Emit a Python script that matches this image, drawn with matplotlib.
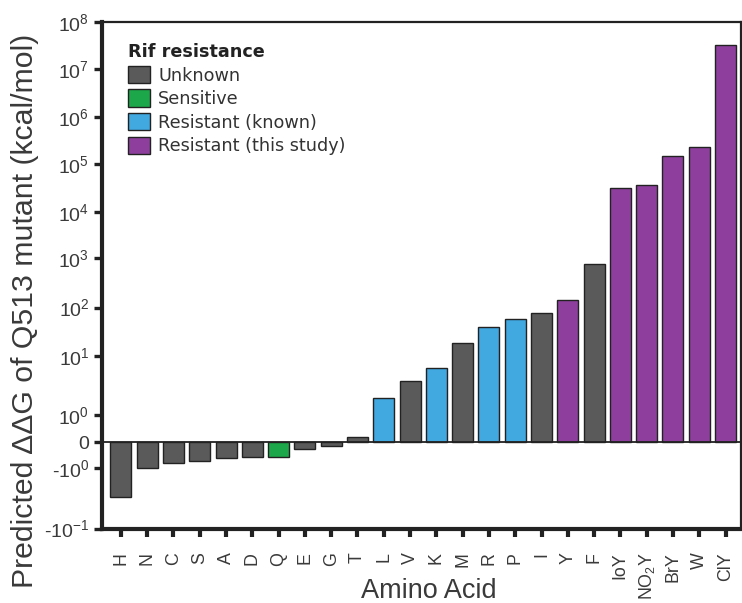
"""Predicted ddG of Q513 mutants, coloured by rifampicin resistance class."""

import matplotlib
matplotlib.use("Agg")
import matplotlib.pyplot as plt
import numpy as np
from matplotlib.patches import Patch

# amino acid at position 513 and the predicted ddG (kcal/mol)
AMINO_ACIDS = ["H", "N", "C", "S", "A", "D", "Q", "E", "G", "T", "L", "V",
               "K", "M", "R", "P", "I", "Y", "F", "IoY", r"NO$_2$Y", "BrY",
               "W", "ClY"]
DDG = [-3.0, -1.0, -0.82, -0.74, -0.62, -0.56, -0.56, -0.27, -0.16, 0.2,
       1.95, 3.8, 6.3, 18.0, 40.0, 59.0, 76.0, 143.0, 755.0, 3.2e4,
       3.6e4, 1.5e5, 2.3e5, 3.2e7]
RESISTANCE = ["unknown", "unknown", "unknown", "unknown", "unknown",
              "unknown", "sensitive", "unknown", "unknown", "unknown",
              "known", "unknown", "known", "unknown", "known", "known",
              "unknown", "study", "unknown", "study", "study", "study",
              "study", "study"]

CLASS_ORDER = ["unknown", "sensitive", "known", "study"]
CLASS_LABELS = ["Unknown", "Sensitive", "Resistant (known)",
                "Resistant (this study)"]
CLASS_COLORS = {"unknown": "#5a5a5a", "sensitive": "#1ca84a",
                "known": "#41a8e0", "study": "#8e3f9e"}

# y axis of the original is a hand-made segmented log axis
TICK_VALUES = [-10, -1, 0, 1, 10, 1e2, 1e3, 1e4, 1e5, 1e6, 1e7, 1e8]
TICK_LABELS = ["-10$^{-1}$", "-10$^{0}$", "0", "10$^{0}$", "10$^{1}$",
               "10$^{2}$", "10$^{3}$", "10$^{4}$", "10$^{5}$", "10$^{6}$",
               "10$^{7}$", "10$^{8}$"]  # bottom label as printed in the source
G_ANCHORS = [-20, -2, -1, 0, 1, 2, 3, 4, 5, 6, 7, 8, 9, 20]
AXIS_POS = [-24.6, -1.805, -0.536, 0, 0.565, 1.814, 2.824, 3.858, 4.82,
            5.83, 6.81, 7.82, 8.81, 19.8]

INK = "#222222"
TEXT = "#3a3a3a"


def _glog(v):
    v = np.asarray(v, dtype=float)
    a = np.abs(v)
    return np.where(a <= 1, v, np.sign(v) * (1 + np.log10(np.maximum(a, 1e-300))))


def forward(v):
    return np.interp(_glog(v), G_ANCHORS, AXIS_POS)


def inverse(p):
    g = np.interp(np.asarray(p, dtype=float), AXIS_POS, G_ANCHORS)
    a = np.abs(g)
    return np.where(a <= 1, g, np.sign(g) * 10 ** (np.maximum(a, 1) - 1))


def main() -> None:
    plt.rcParams.update({
        "mathtext.fontset": "custom",
        "mathtext.rm": "Liberation Sans",
        "mathtext.it": "Liberation Sans:italic",
        "mathtext.bf": "Liberation Sans:bold",
    })

    fig = plt.figure(figsize=(7.42, 6.03), dpi=100)
    ax = fig.add_axes([0.1381, 0.1235, 0.998 - 0.1381, 0.964 - 0.1235])

    ax.set_yscale("function", functions=(forward, inverse))

    x = np.arange(len(AMINO_ACIDS))
    colors = [CLASS_COLORS[c] for c in RESISTANCE]
    ax.bar(x, DDG, width=0.8, color=colors, edgecolor=INK, linewidth=1.0,
           zorder=2)
    ax.axhline(0, color=INK, linewidth=1.3, zorder=3)

    ax.set_xlim(-0.70, 23.57)
    ax.set_ylim(-10, 1e8)

    ax.set_yticks(TICK_VALUES)
    ax.set_yticklabels(TICK_LABELS, fontfamily="Liberation Sans",
                       fontsize=14, color=TEXT)
    ax.yaxis.set_minor_locator(matplotlib.ticker.NullLocator())
    ax.set_xticks(x)
    ax.set_xticklabels(AMINO_ACIDS, rotation=90, fontfamily="Liberation Sans",
                       fontsize=12.8, color=TEXT, ha="center", va="top")

    ax.tick_params(axis="y", length=5.5, width=2.4, color=INK, pad=4)
    ax.tick_params(axis="x", length=6, width=3, color=INK, pad=11)

    for side in ("left", "bottom"):
        ax.spines[side].set_linewidth(3.0)
        ax.spines[side].set_color(INK)
    for side in ("top", "right"):
        ax.spines[side].set_linewidth(1.6)
        ax.spines[side].set_color(INK)

    ax.set_ylabel("Predicted \u0394\u0394G of Q513 mutant (kcal/mol)",
                  fontfamily="Liberation Sans", fontsize=21.8, color=TEXT)
    ax.set_xlabel("Amino Acid", fontfamily="Liberation Sans", fontsize=19.5,
                  color=TEXT)
    ax.yaxis.set_label_coords(-0.1, 0.429)
    ax.xaxis.set_label_coords(0.512, -0.098)

    handles = [Patch(facecolor=CLASS_COLORS[c], edgecolor=INK, linewidth=1.0)
               for c in CLASS_ORDER]
    leg = ax.legend(handles, CLASS_LABELS, title="Rif resistance",
                    loc="upper left", bbox_to_anchor=(0.04, 0.958),
                    frameon=False, fontsize=12.7, alignment="left",
                    handlelength=1.27, handleheight=1.13, labelspacing=0.28,
                    handletextpad=0.45, borderpad=0, borderaxespad=0)
    leg.get_title().set_fontweight("bold")
    leg.get_title().set_fontsize(12.7)
    leg.get_title().set_color("#222222")
    for t in leg.get_texts():
        t.set_color("#333333")

    fig.savefig("out.png", dpi=100, facecolor="white")


if __name__ == "__main__":
    main()
